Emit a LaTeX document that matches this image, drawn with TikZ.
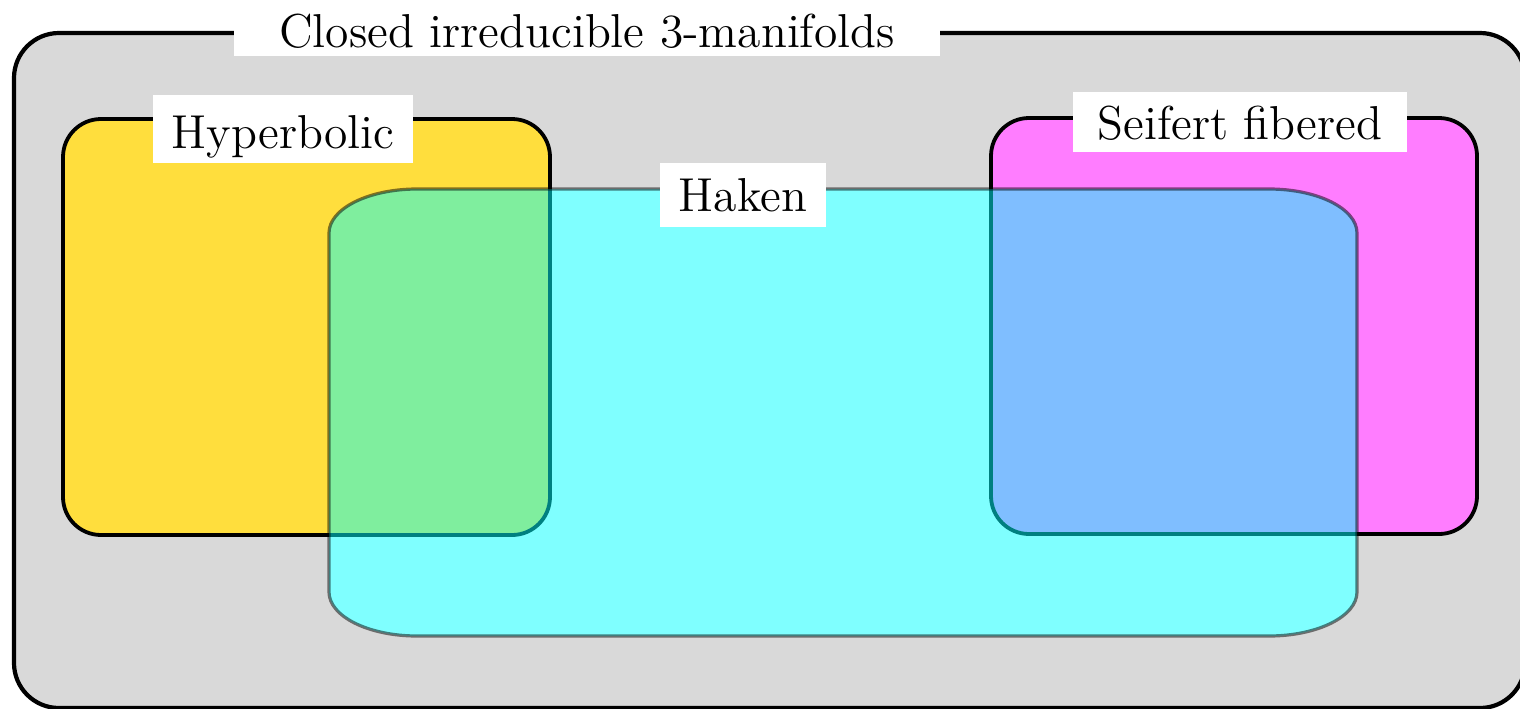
\documentclass[tikz,border=0pt]{standalone}
\definecolor{outergray}{RGB}{217,217,217}
\definecolor{hypyellow}{RGB}{255,222,61}
\definecolor{sfmagenta}{RGB}{255,125,255}
\definecolor{hakencyan}{RGB}{0,255,255}
\tikzset{
  setbox/.style={line width=0.95pt, draw=black, rounded corners=9.5pt},
  tag/.style={fill=white, inner ysep=0pt, anchor=base,
    font=\fontsize{11.9}{14}\selectfont},
  hakenpath/.style={},
}
\begin{document}
\begin{tikzpicture}[x=0.25pt, y=-0.25pt]
  \useasboundingbox (0,0) rectangle (1520,708);
  \clip (0,0) rectangle (1520,708);

  % ambient class: closed irreducible 3-manifolds
  \draw[line width=1.05pt, fill=outergray, rounded corners=11.25pt]
    (14,33) rectangle (1525,708);
  \node[tag, inner xsep=11.3pt, text height=11pt, text depth=2.25pt]
    (closed) at (587,47) {Closed irreducible 3-manifolds};

  % white base under the translucent Haken region
  \fill[white] (417,189) -- (1269,189)
    arc[start angle=90, end angle=0, x radius=22pt, y radius=11pt]
    -- (1357,592)
    arc[start angle=0, end angle=-90, x radius=22pt, y radius=11pt]
    -- (417,636)
    arc[start angle=-90, end angle=-180, x radius=22pt, y radius=11pt]
    -- (329,233)
    arc[start angle=180, end angle=90, x radius=22pt, y radius=11pt]
    -- cycle;

  % hyperbolic and Seifert fibered classes
  \draw[setbox, fill=hypyellow] (63,119) rectangle (550,535);
  \draw[setbox, fill=sfmagenta] (991,118) rectangle (1477,534);

  % Haken class, translucent
  \draw[line width=0.8pt, draw=black, draw opacity=0.5,
        fill=hakencyan, fill opacity=0.5]
    (417,189) -- (1269,189)
    arc[start angle=90, end angle=0, x radius=22pt, y radius=11pt]
    -- (1357,592)
    arc[start angle=0, end angle=-90, x radius=22pt, y radius=11pt]
    -- (417,636)
    arc[start angle=-90, end angle=-180, x radius=22pt, y radius=11pt]
    -- (329,233)
    arc[start angle=180, end angle=90, x radius=22pt, y radius=11pt]
    -- cycle;

  % labels
  \node[tag, inner xsep=4.6pt, text height=13.25pt, text depth=3.75pt]
    (hyp) at (283,148) {Hyperbolic};
  \node[tag, inner xsep=6.2pt, text height=11.75pt, text depth=3.25pt]
    (sf) at (1240,139) {Seifert fibered};
  \node[tag, inner xsep=4.8pt, text height=12pt, text depth=4pt]
    (haken) at (743,211) {Haken};
\end{tikzpicture}
\end{document}
